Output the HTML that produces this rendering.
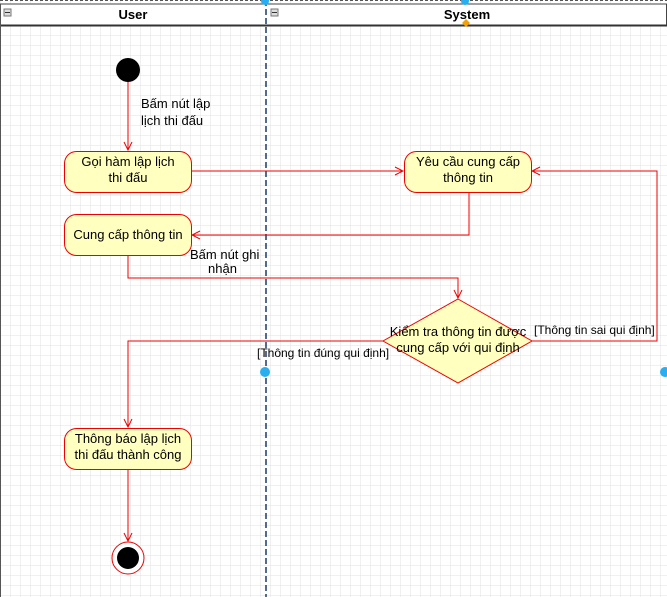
<!DOCTYPE html>
<html><head><meta charset="utf-8"><style>
html,body{margin:0;padding:0;background:#fff}
svg{display:block;font-family:"Liberation Sans",Arial,sans-serif}
</style></head><body>
<svg width="667" height="597" viewBox="0 0 667 597" xmlns="http://www.w3.org/2000/svg">
<defs>
<pattern id="g" width="10" height="10" patternUnits="userSpaceOnUse" x="1" y="6">
<path d="M10 0V10M0 10H10" fill="none" stroke="#e2e2e2" stroke-width="1"/>
</pattern>
<marker id="a" markerWidth="10" markerHeight="10" refX="9" refY="5" orient="auto" markerUnits="userSpaceOnUse">
<path d="M1 1L9 5L1 9" fill="none" stroke="#e00" stroke-width="1"/>
</marker>
</defs>
<rect x="0" y="0" width="667" height="597" fill="url(#g)"/>
<rect x="0.5" y="4" width="666" height="21" fill="#fff" stroke="#444"/>
<line x1="0" y1="25.5" x2="667" y2="25.5" stroke="#333" stroke-width="2"/>
<line x1="0" y1="0.5" x2="667" y2="0.5" stroke="#555" stroke-dasharray="3,2"/>
<line x1="0.5" y1="4" x2="0.5" y2="597" stroke="#555"/>
<line x1="266" y1="0" x2="266" y2="597" stroke="#1a3a6a" stroke-width="1.5" stroke-dasharray="6,3"/>
<rect x="4" y="9" width="7" height="7" fill="#ddd" stroke="#777"/><line x1="5" y1="12.5" x2="10" y2="12.5" stroke="#333"/>
<rect x="271" y="9" width="7" height="7" fill="#ddd" stroke="#777"/><line x1="272" y1="12.5" x2="277" y2="12.5" stroke="#333"/>
<text x="133" y="19" font-size="13" font-weight="bold" text-anchor="middle">User</text>
<text x="467" y="19" font-size="13" font-weight="bold" text-anchor="middle">System</text>
<path d="M466 19l4 4-4 4-4-4z" fill="#f5a000"/>
<circle cx="265" cy="1" r="4" fill="#29aef0"/><circle cx="465" cy="1" r="4" fill="#29aef0"/>
<circle cx="265" cy="372" r="5" fill="#29aef0"/><circle cx="665" cy="372" r="5" fill="#29aef0"/>

<g fill="none" stroke="#e00" stroke-width="1">
<path d="M128 82V150" marker-end="url(#a)"/>
<path d="M191 171H403" marker-end="url(#a)"/>
<path d="M469 192V235H192" marker-end="url(#a)"/>
<path d="M128 255V278H458V298" marker-end="url(#a)"/>
<path d="M532 341H657V171H532" marker-end="url(#a)"/>
<path d="M383 341H128V427" marker-end="url(#a)"/>
<path d="M128 469V541" marker-end="url(#a)"/>
</g>
<circle cx="128" cy="70" r="12" fill="#000"/>
<g fill="#ffffc0" stroke="#e00">
<rect x="64.5" y="151.5" width="127" height="41" rx="12"/>
<rect x="404.5" y="151.5" width="127" height="41" rx="12"/>
<rect x="64.5" y="214.5" width="127" height="41" rx="12"/>
<rect x="64.5" y="428.5" width="127" height="41" rx="12"/>
<path d="M458 299L532 341L458 383L383 341Z"/>
</g>
<circle cx="128" cy="558" r="16" fill="#fff" stroke="#e00"/>
<circle cx="128" cy="558" r="11" fill="#000"/>
<g font-size="13" fill="#000" text-anchor="middle">
<text x="128" y="166">Gọi hàm lập lịch</text><text x="128" y="182">thi đấu</text>
<text x="468" y="166">Yêu cầu cung cấp</text><text x="468" y="182">thông tin</text>
<text x="128" y="239">Cung cấp thông tin</text>
<text x="128" y="443">Thông báo lập lịch</text><text x="128" y="459">thi đấu thành công</text>
<text x="458" y="336">Kiểm tra thông tin được</text><text x="458" y="352">cung cấp với qui định</text>
</g>
<g font-size="13" fill="#000">
<text x="141" y="108">Bấm nút lập</text><text x="141" y="125">lịch thi đấu</text>
<text x="190" y="259">Bấm nút ghi</text><text x="208" y="273">nhận</text>
</g>
<g font-size="12" fill="#000">
<text x="534" y="334">[Thông tin sai qui định]</text>
<text x="257" y="357">[Thông tin đúng qui định]</text>
</g>
</svg>
</body></html>
